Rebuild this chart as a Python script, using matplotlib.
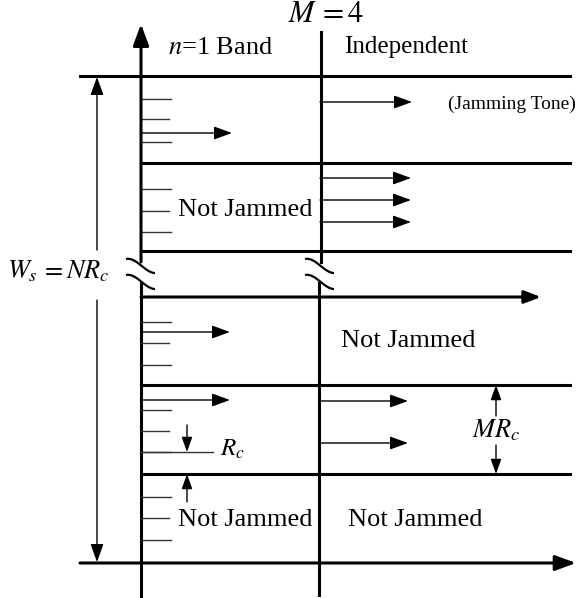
import matplotlib
matplotlib.use("Agg")
import matplotlib.pyplot as plt
import numpy as np

plt.rcParams["font.family"] = ["Liberation Serif", "DejaVu Serif"]
plt.rcParams["mathtext.fontset"] = "stix"

# diagram geometry in pixel units (y grows downwards)
left_x = 141
mid_x = 320
band_lines = [76, 163, 251, 385, 474]          # thick band boundaries
freq_axis_y = 297                               # broken axis with arrow
bottom_axis_y = 563

# short thin ticks inside the n=1 band (one band per row)
tick_rows = [
    [99, 119, 142],
    [189, 211, 232],
    [322, 343, 365],
    [410, 431, 452],
    [497, 518, 540],
]
tick_len = [30, 28, 30]

# jamming tones: (x_start, y, x_tip)
tones = [
    (141, 133, 232),
    (320, 102, 412),
    (320, 178, 411),
    (320, 200, 411),
    (320, 222, 411),
    (141, 332, 230),
    (141, 400, 230),
    (320, 401, 408),
    (320, 443, 408),
]

labels = [
    (r"$M\,=4$", 326, 15, 22),
    (r"$n$=1 Band", 221, 48, 19),
    ("Independent", 406, 47, 18),
    ("(Jamming Tone)", 512, 104, 14),
    ("Not Jammed", 245, 210, 19),
    ("Not Jammed", 408, 341, 19),
    ("Not Jammed", 245, 520, 19),
    ("Not Jammed", 415, 520, 19),
]

fig = plt.figure(figsize=(5.81, 5.98), dpi=100)
ax = fig.add_axes([0, 0, 1, 1])
ax.set_xlim(0, 581)
ax.set_ylim(598, 0)
ax.axis("off")

THICK = 2.2
THIN = 1.0


def arrow(x0, y0, x1, y1, lw=THIN, hl=1.1, hw=0.4):
    ax.annotate(
        "", xy=(x1, y1), xytext=(x0, y0),
        arrowprops=dict(
            arrowstyle=f"-|>,head_length={hl},head_width={hw}",
            mutation_scale=10, lw=lw, color="black",
            shrinkA=0, shrinkB=0,
        ),
    )


def break_mark(x, y0):
    t = np.linspace(0, 1, 40)
    xs = x - 15 + 29 * t
    ys = y0 + 14 * (3 * t**2 - 2 * t**3) - 2 * np.sin(np.pi * t) * (1 - t)
    ax.plot(xs, ys, color="black", lw=1.6, solid_capstyle="butt")


# vertical axes with break
arrow(left_x, 262, left_x, 24, lw=THICK, hl=1.3, hw=0.48)
ax.plot([left_x, left_x], [283, 597], color="black", lw=THICK)
ax.plot([mid_x + 1, mid_x + 1], [32, 262], color="black", lw=THICK)
ax.plot([mid_x - 1, mid_x - 1], [283, 595], color="black", lw=THICK)
for bx in (left_x, mid_x):
    break_mark(bx, 259)
    break_mark(bx, 275)

# band boundaries
for i, y in enumerate(band_lines):
    x_start = 80 if i == 0 else left_x
    ax.plot([x_start, 570], [y, y], color="black", lw=THICK)
arrow(left_x, freq_axis_y, 541, freq_axis_y, lw=THICK, hl=1.0, hw=0.38)
arrow(80, bottom_axis_y, 576, bottom_axis_y, lw=THICK, hl=1.25, hw=0.46)

# ticks
for row in tick_rows:
    for y, ln in zip(row, tick_len):
        ax.plot([left_x, left_x + ln], [y, y], color="#333333", lw=THIN)
ax.plot([left_x, 213], [452, 452], color="#333333", lw=THIN)

# jamming tones
for x0, y, x1 in tones:
    arrow(x0, y, x1, y)

# W_s double arrow
arrow(97, 250, 97, 77)
arrow(97, 300, 97, 562)
ax.text(58, 271, r"$W_s\,=NR_c$", fontsize=19, ha="center", va="center")

# R_c spacing marker
arrow(187, 425, 187, 452, hl=0.9, hw=0.32)
arrow(187, 502, 187, 474, hl=0.9, hw=0.32)
ax.text(220, 449, r"$R_c$", fontsize=18, ha="left", va="center")

# MR_c marker
arrow(496, 416, 496, 385, hl=0.9, hw=0.32)
arrow(496, 445, 496, 474, hl=0.9, hw=0.32)
ax.text(496, 430, r"$MR_c$", fontsize=19, ha="center", va="center")

for s, x, y, fs in labels:
    ax.text(x, y, s, fontsize=fs, ha="center", va="center")

fig.savefig("out.png", dpi=100)
